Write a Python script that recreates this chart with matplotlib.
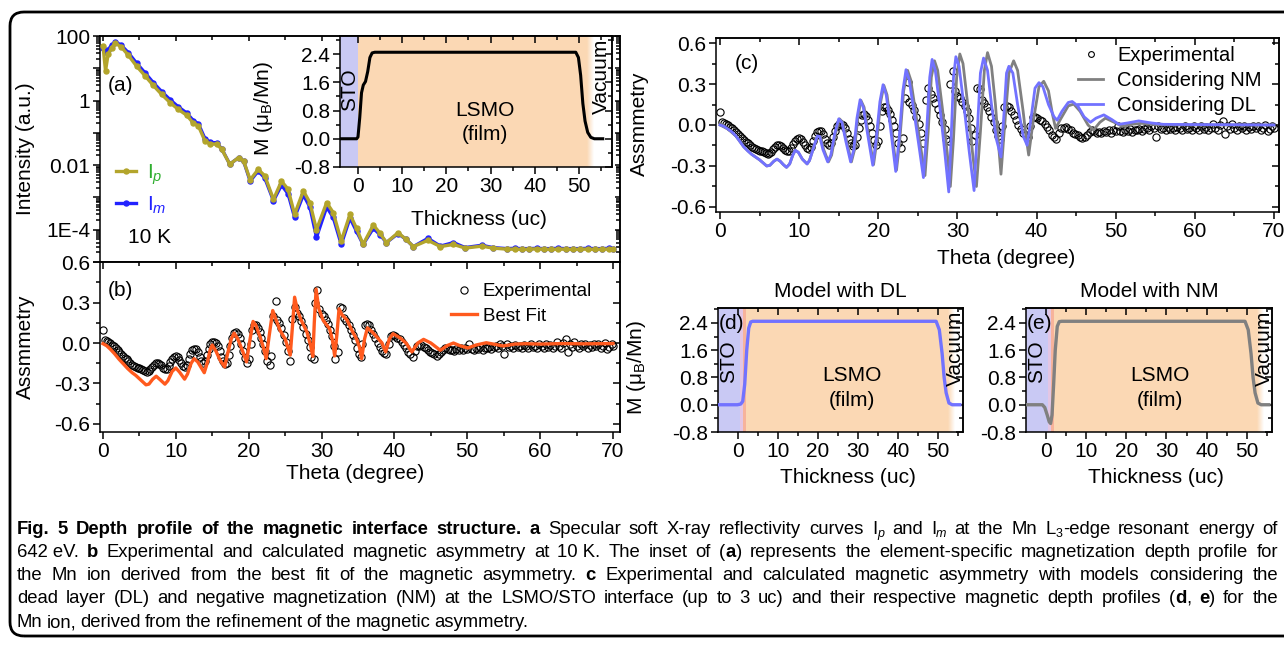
import re
import numpy as np
import matplotlib
matplotlib.use('Agg')
import matplotlib.pyplot as plt
import matplotlib.patches as mpatches
import matplotlib.transforms as mtransforms
from matplotlib.colors import to_rgb
from matplotlib.ticker import (MultipleLocator, FixedLocator, FuncFormatter,
                               LogLocator, FormatStrFormatter, NullFormatter)

# ---------------- data ----------------
# (a) reflectivity, Ip and Im (a.u.)
refl_theta = [0.0, 0.35, 0.7, 1.2, 1.7, 2.5, 3.5, 4.6, 5.8, 6.9, 8.05, 9.2, 10.3, 11.5,
              12.4, 13.1, 14.0, 14.7, 15.6, 16.3, 17.4, 18.6, 19.3, 20.2, 21.3, 22.2,
              23.4, 24.5, 25.4, 26.3, 27.5, 28.4, 29.3, 30.7, 31.6, 32.7, 33.9, 34.8,
              35.7, 37.1, 38.0, 38.9, 40.5, 41.6, 42.6, 44.6, 46.3, 48.1, 49.7, 52.0,
              53.5, 55.4, 56.5, 57.5, 58.5, 59.5, 60.5, 61.5, 62.5, 63.5, 64.5, 65.5,
              66.5, 67.5, 68.5, 69.5, 70.0]
ip = [50, 8.3, 27, 44, 60, 46, 25, 11.7, 5.75, 2.95, 1.55, 0.87, 0.54, 0.35,
      0.20, 0.162, 0.056, 0.045, 0.045, 0.031, 0.0107, 0.017, 0.0135, 0.0035, 0.0074, 0.0047,
      8.7e-4, 3.2e-3, 1.8e-3, 3.0e-4, 1.6e-3, 6.9e-4, 1.0e-4, 6.9e-4, 3.4e-4, 4.5e-5, 3.0e-4, 1.1e-4,
      3.5e-5, 1.4e-4, 7.9e-5, 4.0e-5, 8.1e-5, 5.0e-5, 3.0e-5, 4.7e-5, 3.0e-5, 3.5e-5, 2.7e-5, 3.1e-5,
      2.7e-5, 2.5e-5, 2.5e-5, 2.45e-5, 2.5e-5, 2.55e-5, 2.5e-5, 2.45e-5, 2.5e-5, 2.5e-5, 2.45e-5, 2.5e-5,
      2.5e-5, 2.45e-5, 2.5e-5, 2.5e-5, 2.5e-5]
im = [42, 32, 38, 52, 66, 52, 30, 14.5, 7.1, 3.6, 1.9, 1.07, 0.65, 0.41,
      0.24, 0.19, 0.066, 0.051, 0.049, 0.032, 0.0107, 0.017, 0.0132, 0.0032, 0.0066, 0.0040,
      7.9e-4, 2.4e-3, 1.3e-3, 2.4e-4, 1.2e-3, 5.0e-4, 5.8e-5, 5.0e-4, 2.4e-4, 3.5e-5, 2.3e-4, 8.9e-5,
      3.5e-5, 1.1e-4, 7.1e-5, 4.0e-5, 7.6e-5, 5.0e-5, 3.0e-5, 5.4e-5, 3.1e-5, 4.0e-5, 2.8e-5, 3.3e-5,
      2.8e-5, 2.6e-5, 2.65e-5, 2.6e-5, 2.6e-5, 2.65e-5, 2.6e-5, 2.6e-5, 2.65e-5, 2.6e-5, 2.6e-5, 2.6e-5,
      2.65e-5, 2.6e-5, 2.6e-5, 2.65e-5, 2.6e-5]

# (b), (c) experimental asymmetry
exp_theta = [0.0, 0.25, 0.5, 0.75, 1.0, 1.25, 1.5, 1.75, 2.0, 2.25, 2.5, 2.75, 3.0, 3.25, 3.5,
             3.75, 4.0, 4.25, 4.5, 4.75, 5.0, 5.25, 5.5, 5.75, 6.0, 6.25, 6.5, 6.75, 7.0, 7.25,
             7.5, 7.75, 8.0, 8.25, 8.5, 8.75, 9.0, 9.25, 9.5, 9.75, 10.0, 10.25, 10.5, 10.75,
             11.0, 11.25, 11.5, 11.75, 12.0, 12.25, 12.5, 12.75, 13.0, 13.25, 13.5, 13.75, 14.0,
             14.25, 14.5, 14.75, 15.0, 15.25, 15.5, 15.75, 16.0, 16.25, 16.5, 16.75, 17.0, 17.25,
             17.5, 17.75, 18.0, 18.25, 18.5, 18.75, 19.0, 19.25, 19.5, 19.75, 20.0, 20.25, 20.5,
             20.75, 21.0, 21.25, 21.5, 21.75, 22.0, 22.25, 22.5, 22.9, 23.1, 23.4, 23.7, 23.9,
             24.2, 24.5, 24.8, 25.1, 25.4, 25.7, 26.0, 26.3, 26.6, 26.9, 27.2, 27.5, 27.8, 28.1,
             28.4, 28.6, 28.9, 29.1, 29.4, 29.7, 30.0, 30.3, 30.6, 30.9, 31.2, 31.5, 31.7, 31.9,
             32.2, 32.5, 32.8, 33.1, 33.4, 33.7, 34.0, 34.3, 34.6, 34.9, 35.1, 35.4, 35.6, 35.9,
             36.2, 36.5, 36.8, 37.1, 37.4, 37.7, 38.0, 38.3, 38.6, 38.9, 39.2, 39.5, 39.8, 40.1,
             40.4, 40.7, 41.0, 41.3, 41.6, 41.9, 42.2, 42.5, 42.8, 43.1, 43.4, 43.7, 44.0, 44.3,
             44.6, 44.9, 45.2, 45.5, 45.8, 46.1, 46.4, 46.7, 47.0, 47.3, 47.6, 47.9, 48.2, 48.5,
             48.8, 49.1, 49.4, 49.7, 50.0, 50.3, 50.6, 50.9, 51.2, 51.5, 51.8, 52.1, 52.4, 52.7,
             53.0, 53.3, 53.6, 53.9, 54.2, 54.5, 54.8, 55.1, 55.4, 55.7, 56.0, 56.3, 56.6, 56.9,
             57.2, 57.5, 57.8, 58.1, 58.4, 58.7, 59.0, 59.3, 59.6, 59.9, 60.2, 60.5, 60.8, 61.1,
             61.4, 61.7, 62.0, 62.3, 62.6, 62.9, 63.2, 63.5, 63.8, 64.1, 64.4, 64.7, 65.0, 65.3,
             65.6, 65.9, 66.2, 66.5, 66.8, 67.1, 67.4, 67.7, 68.0, 68.3, 68.6, 68.9, 69.2, 69.5,
             69.8, 70.0]
exp_asym = [0.098, 0.022, 0.015, 0.008, -0.002, -0.012, -0.025, -0.038, -0.052, -0.066, -0.080,
            -0.094, -0.108, -0.122, -0.135, -0.148, -0.160, -0.170, -0.178, -0.184, -0.188,
            -0.192, -0.197, -0.205, -0.212, -0.208, -0.195, -0.175, -0.160, -0.150, -0.148,
            -0.152, -0.165, -0.182, -0.193, -0.190, -0.170, -0.140, -0.115, -0.102, -0.098,
            -0.105, -0.125, -0.150, -0.170, -0.175, -0.160, -0.120, -0.080, -0.052, -0.042,
            -0.045, -0.065, -0.100, -0.130, -0.145, -0.130, -0.090, -0.045, -0.010, 0.005,
            0.008, 0.000, -0.025, -0.060, -0.100, -0.135, -0.155, -0.150, -0.090, -0.020,
            0.040, 0.075, 0.080, 0.065, 0.035, -0.010, -0.060, -0.110, -0.145, -0.120, -0.010,
            0.100, 0.135, 0.130, 0.110, 0.080, 0.040, -0.010, -0.060, -0.130, -0.165, -0.095,
            0.200, 0.315, 0.170, 0.150, 0.110, 0.060, 0.010, -0.060, -0.130, 0.180, 0.270,
            0.225, 0.200, 0.160, 0.120, 0.070, 0.020, -0.030, -0.100, -0.120, 0.300, 0.395,
            0.250, 0.215, 0.200, 0.170, 0.140, 0.100, 0.050, -0.020, -0.120, -0.070, 0.270,
            0.260, 0.185, 0.160, 0.130, 0.100, 0.060, 0.020, -0.040, -0.080, -0.100, -0.010,
            0.135, 0.140, 0.130, 0.100, 0.070, 0.035, 0.000, -0.030, -0.060, -0.075, -0.085,
            -0.010, 0.055, 0.060, 0.050, 0.040, 0.030, 0.010, -0.015, -0.040, -0.070, -0.085,
            -0.100, -0.060, -0.025, -0.020, -0.015, -0.030, -0.040, -0.055, -0.065, -0.075,
            -0.085, -0.095, -0.085, -0.070, -0.050, -0.040, -0.045, -0.055, -0.050, -0.060,
            -0.045, -0.050, -0.035, -0.055, -0.040, -0.045, -0.005, -0.045, -0.050, -0.035,
            -0.045, -0.030, -0.050, -0.035, -0.040, -0.030, -0.045, -0.030, -0.020, -0.040,
            -0.010, -0.025, -0.085, -0.010, -0.030, -0.020, -0.035, -0.015, -0.030, -0.020,
            -0.040, -0.015, -0.025, -0.035, -0.010, -0.030, -0.020, -0.040, -0.005, -0.025,
            -0.035, -0.010, -0.030, -0.015, -0.040, -0.020, 0.005, -0.025, -0.035, 0.000,
            0.030, -0.065, -0.010, -0.030, 0.005, -0.020, -0.035, -0.005, -0.025, -0.010,
            -0.040, -0.015, -0.030, -0.005, -0.025, -0.010, -0.035, -0.020, 0.000, -0.045,
            -0.030, -0.010, -0.025]

# (b) best fit
fit_theta = [0.0, 0.5, 1.0, 1.6, 2.2, 2.8, 3.4, 4.0, 4.5, 5.0, 5.5, 5.9, 6.3, 6.8, 7.3, 7.8, 8.5,
             8.9, 9.5, 10.0, 10.5, 11.2, 11.6, 12.1, 12.5, 13.0, 13.9, 14.3, 14.7, 15.0, 15.5,
             16.1, 16.7, 17.1, 17.6, 18.0, 18.5, 19.1, 19.7, 20.1, 20.6, 21.0, 21.6, 22.0, 22.4,
             22.8, 23.3, 23.7, 24.3, 25.0, 25.7, 26.0, 26.3, 26.7, 27.2, 28.0, 28.5, 28.8, 29.0,
             29.25, 29.6, 30.2, 31.1, 31.5, 31.8, 32.1, 32.4, 32.8, 33.5, 34.2, 34.8, 35.2, 35.5,
             35.9, 36.3, 37.0, 37.6, 38.3, 38.8, 39.3, 39.8, 40.8, 41.6, 42.4, 43.2, 44.0, 45.0,
             46.3, 47.2, 48.1, 49.0, 50.1, 51.2, 52.6, 54.0, 54.9, 56.5, 58.0, 60.0, 63.0, 66.0,
             70.0]
fit_asym = [-0.005, -0.02, -0.045, -0.08, -0.12, -0.155, -0.19, -0.22, -0.24, -0.265, -0.29,
            -0.31, -0.305, -0.27, -0.246, -0.27, -0.305, -0.28, -0.21, -0.185, -0.215, -0.268,
            -0.23, -0.15, -0.116, -0.14, -0.22, -0.15, -0.05, -0.015, -0.06, -0.13, -0.177,
            -0.08, 0.03, 0.074, 0.03, -0.05, -0.14, 0.0, 0.16, 0.13, 0.04, -0.03, -0.116, 0.05,
            0.241, 0.18, 0.094, 0.03, -0.09, 0.12, 0.34, 0.24, 0.17, 0.08, -0.02, -0.10, 0.15,
            0.40, 0.26, 0.17, 0.106, 0.02, -0.096, 0.06, 0.254, 0.21, 0.17, 0.09, 0.03, -0.03,
            -0.116, 0.03, 0.113, 0.08, 0.044, 0.0, -0.066, 0.03, 0.069, 0.037, 0.0, -0.066, 0.0,
            0.027, 0.0, -0.054, -0.02, 0.0, -0.02, -0.037, -0.015, 0.002, -0.012, -0.022,
            -0.008, -0.005, -0.008, -0.004, -0.006, -0.004]

# (c) model curves
dl_theta = [0.0, 0.5, 1.0, 1.5, 2.0, 2.5, 3.0, 3.5, 4.0, 4.5, 5.0, 5.5, 5.9, 6.3, 6.8, 7.2, 7.6,
            8.0, 8.4, 8.8, 9.2, 9.5, 9.9, 10.4, 11.0, 11.3, 11.8, 12.3, 12.6, 13.0, 13.6, 14.0,
            14.5, 15.0, 15.4, 15.9, 16.5, 16.9, 17.3, 17.7, 18.1, 18.6, 19.3, 19.7, 20.2, 20.6,
            21.0, 21.5, 22.2, 22.6, 23.1, 23.5, 23.9, 24.5, 25.2, 25.7, 26.1, 26.5, 26.8, 27.2,
            27.8, 28.4, 28.9, 29.2, 29.5, 29.8, 30.2, 30.8, 31.5, 32.1, 32.5, 32.9, 33.3, 33.8,
            34.3, 34.9, 35.5, 35.9, 36.2, 36.5, 37.0, 37.6, 38.3, 38.8, 39.3, 39.8, 40.3, 40.8,
            41.5, 42.2, 42.6, 43.2, 44.0, 44.5, 45.2, 46.0, 46.8, 47.5, 48.5, 49.5, 50.4, 51.5,
            52.9, 54.5, 56.0, 60.0, 65.0, 70.0]
dl_asym = [0.0, -0.01, -0.03, -0.05, -0.08, -0.12, -0.16, -0.19, -0.215, -0.235, -0.255, -0.28,
           -0.30, -0.295, -0.265, -0.25, -0.265, -0.29, -0.31, -0.285, -0.22, -0.185, -0.2,
           -0.25, -0.285, -0.26, -0.17, -0.08, -0.085, -0.18, -0.27, -0.22, -0.06, 0.045, 0.02,
           -0.12, -0.27, -0.18, 0.05, 0.185, 0.13, -0.05, -0.295, -0.12, 0.17, 0.295, 0.22, 0.0,
           -0.34, -0.12, 0.25, 0.405, 0.33, 0.1, -0.18, -0.385, -0.05, 0.35, 0.48, 0.40, 0.12,
           -0.2, -0.49, -0.1, 0.35, 0.50, 0.43, 0.15, -0.2, -0.48, -0.05, 0.38, 0.49, 0.40, 0.15,
           -0.1, -0.234, 0.1, 0.38, 0.43, 0.38, 0.15, -0.08, -0.148, 0.05, 0.27, 0.31, 0.28,
           0.15, 0.06, 0.035, 0.10, 0.165, 0.172, 0.14, 0.06, 0.02, 0.05, 0.074, 0.04, 0.005,
           0.015, 0.03, 0.015, 0.005, 0.003, 0.002, 0.0]
nm_theta = [0.0, 1.0, 2.0, 3.0, 4.0, 5.0, 5.9, 6.3, 6.8, 7.2, 7.6, 8.0, 8.4, 8.8, 9.2, 9.5, 9.9,
            10.4, 11.0, 11.3, 11.8, 12.3, 12.7, 13.1, 13.7, 14.1, 14.6, 15.1, 15.5, 16.0, 16.6,
            17.0, 17.4, 17.8, 18.2, 18.7, 19.4, 19.8, 20.3, 20.7, 21.1, 21.6, 22.3, 22.7, 23.2,
            23.7, 24.1, 24.7, 25.4, 25.9, 26.3, 26.7, 27.1, 27.5, 28.1, 28.7, 29.1, 29.5, 29.9,
            30.3, 30.7, 31.3, 31.9, 32.4, 32.9, 33.4, 33.8, 34.3, 34.8, 35.2, 35.5, 35.9, 36.5,
            37.1, 37.6, 38.3, 38.7, 39.0, 39.5, 40.3, 40.9, 41.5, 42.0, 42.4, 43.0, 44.0, 44.7,
            45.5, 46.5, 47.2, 48.0, 48.7, 49.8, 50.8, 52.0, 53.3, 55.0, 60.0, 70.0]
nm_asym = [0.0, -0.03, -0.08, -0.16, -0.215, -0.255, -0.30, -0.295, -0.265, -0.25, -0.265, -0.29,
           -0.31, -0.285, -0.22, -0.185, -0.2, -0.25, -0.285, -0.26, -0.17, -0.08, -0.085, -0.18,
           -0.27, -0.22, -0.06, 0.045, 0.02, -0.12, -0.27, -0.18, 0.05, 0.18, 0.13, -0.05, -0.29,
           -0.12, 0.17, 0.29, 0.22, 0.0, -0.33, -0.12, 0.25, 0.40, 0.33, 0.1, -0.18, -0.37, -0.05,
           0.35, 0.47, 0.40, 0.12, -0.2, -0.45, -0.1, 0.35, 0.52, 0.45, 0.15, -0.2, -0.45, -0.05,
           0.40, 0.53, 0.43, 0.15, -0.15, -0.36, -0.05, 0.38, 0.47, 0.40, 0.10, -0.10, -0.22, 0.0,
           0.28, 0.32, 0.25, 0.08, -0.025, 0.04, 0.14, 0.153, 0.10, 0.0, -0.037, 0.02, 0.05, 0.02,
           -0.01, 0.005, 0.012, 0.002, 0.0, 0.0]

# depth profiles (uc, muB/Mn)
fit_z = [-4.5, -0.3, 0.0, 0.4, 0.8, 1.2, 1.7, 2.2, 2.7, 3.2, 3.8, 49.3, 49.9, 50.4, 50.9, 51.4,
         52.0, 52.7, 53.5, 55.4]
fit_m = [0.0, 0.0, 0.05, 0.6, 1.3, 1.52, 1.62, 1.9, 2.3, 2.43, 2.45, 2.45, 2.3, 1.8, 1.0, 0.5,
         0.18, 0.04, 0.0, 0.0]
dl_z = [-5.0, 0.0, 0.8, 1.3, 1.8, 2.3, 2.8, 3.3, 3.8, 49.5, 50.3, 51.0, 51.5, 52.0, 52.7, 53.5,
        55.4]
dl_m = [0.0, 0.0, 0.02, 0.1, 0.6, 1.6, 2.25, 2.43, 2.45, 2.45, 2.2, 1.5, 0.8, 0.35, 0.05, 0.0,
        0.0]
nm_z = [-5.0, -0.8, -0.2, 0.4, 0.9, 1.25, 1.6, 2.0, 2.4, 2.9, 3.4, 4.0, 49.5, 50.3, 51.0, 51.5,
        52.0, 52.7, 53.5, 55.4]
nm_m = [0.0, 0.0, -0.08, -0.3, -0.5, -0.55, -0.3, 0.6, 1.6, 2.3, 2.44, 2.45, 2.45, 2.2, 1.5,
        0.8, 0.35, 0.05, 0.0, 0.0]

caption = [
    "**Fig. 5 Depth profile of the magnetic interface structure.** **a** Specular soft X-ray "
    "reflectivity curves I_{p} and I_{m} at the Mn L_[3]-edge resonant energy of",
    "642~eV. **b** Experimental and calculated magnetic asymmetry at 10~K. The inset of (**a**) "
    "represents the element-specific magnetization depth profile for",
    "the Mn ion derived from the best fit of the magnetic asymmetry. **c** Experimental and "
    "calculated magnetic asymmetry with models considering the",
    "dead layer (DL) and negative magnetization (NM) at the LSMO/STO interface (up to 3 uc) and "
    "their respective magnetic depth profiles (**d**, **e**) for the",
    "Mn ion, derived from the refinement of the magnetic asymmetry.",
]

# ---------------- style ----------------
plt.rcParams['font.family'] = ['Liberation Sans', 'DejaVu Sans']
plt.rcParams['mathtext.fontset'] = 'custom'
plt.rcParams['mathtext.rm'] = 'Liberation Sans'
plt.rcParams['mathtext.it'] = 'Liberation Sans:italic'
plt.rcParams['mathtext.bf'] = 'Liberation Sans:bold'
plt.rcParams['axes.unicode_minus'] = False
plt.rcParams['axes.linewidth'] = 1.1

BLUE_BG = '#c9c9f4'
PEACH = '#fbd8b4'
ORANGE = '#ff5a1e'
DLBLUE = '#7272ff'
GREY = '#808080'
OLIVE = '#b3a52c'
IMBLUE = '#2222ff'
FS = 15
CAP_FONT = 'Liberation Sans'
CAP_FS = 13.3

W, H = 1284, 645
fig = plt.figure(figsize=(W / 100, H / 100), dpi=100)


def box(l, t, r, b):
    return [l / W, 1 - b / H, (r - l) / W, (b - t) / H]


def ticks(ax, xmaj, xmin, ymaj, ymin, fmt='%.1f'):
    ax.xaxis.set_major_locator(MultipleLocator(xmaj))
    ax.xaxis.set_minor_locator(MultipleLocator(xmin))
    ax.yaxis.set_major_locator(FixedLocator(ymaj))
    ax.yaxis.set_minor_locator(FixedLocator(ymin))
    ax.yaxis.set_major_formatter(FormatStrFormatter(fmt))
    ax.tick_params(which='both', direction='out', labelsize=FS, width=1.1, pad=2)
    ax.tick_params(which='major', length=5)
    ax.tick_params(which='minor', length=3)
    top = ax.secondary_xaxis('top')
    top.xaxis.set_major_locator(MultipleLocator(xmaj))
    top.xaxis.set_minor_locator(MultipleLocator(xmin))
    right = ax.secondary_yaxis('right')
    right.yaxis.set_major_locator(FixedLocator(ymaj))
    right.yaxis.set_minor_locator(FixedLocator(ymin))
    for sec in (top, right):
        sec.tick_params(which='both', direction='in', width=1.1, labeltop=False,
                        labelright=False)
        sec.tick_params(which='major', length=5)
        sec.tick_params(which='minor', length=3)


def layers(ax, x0, fade0, fade1, y0, y1, dead=False):
    ax.axvspan(x0, 0.6 if dead else 0, color=BLUE_BG, lw=0, zorder=0)
    start = 0
    if dead:
        ax.axvspan(0.6, 1.3, color='#e3c6e4', lw=0, zorder=0)
        ax.axvspan(1.3, 2.0, color='#f7b39b', lw=0, zorder=0)
        start = 2.0
    ax.axvspan(start, fade0, color=PEACH, lw=0, zorder=0)
    grad = np.ones((1, 64, 4))
    grad[..., :3] = to_rgb(PEACH)
    grad[..., 3] = np.linspace(1, 0, 64)
    ax.imshow(grad, extent=(fade0, fade1, y0, y1), aspect='auto', zorder=0,
              interpolation='bilinear')


def profile_texts(ax, sto_x, sto_y, lsmo_x, lsmo_y, film_y, vac_x, vac_y):
    ax.text(sto_x, sto_y, 'STO', rotation=90, ha='center', va='center', fontsize=FS)
    ax.text(lsmo_x, lsmo_y, 'LSMO', ha='center', va='center', fontsize=FS)
    ax.text(lsmo_x, film_y, '(film)', ha='center', va='center', fontsize=FS)
    ax.text(vac_x, vac_y, 'Vacuum', rotation=90, ha='center', va='center', fontsize=FS)


M_LABEL = 'M (μ$_\\mathrm{B}$/Mn)'
PROF_Y = [-0.8, 0.0, 0.8, 1.6, 2.4]
PROF_YMIN = [-0.4, 0.4, 1.2, 2.0, 2.8]
ASYM_Y = [-0.6, -0.3, 0.0, 0.3, 0.6]
ASYM_YMIN = [-0.45, -0.15, 0.15, 0.45]

# ---------------- (a) reflectivity ----------------
ax_a = fig.add_axes(box(100, 36, 620, 262))
ax_a.plot(refl_theta, im, '-o', color=IMBLUE, lw=2.4, ms=3.6, label='I$_m$', zorder=3)
ax_a.plot(refl_theta, ip, '-o', color=OLIVE, lw=2.4, ms=3.6, label='I$_p$', zorder=4)
ax_a.set_yscale('log')
ax_a.set_xlim(-0.41, 70.96)
ax_a.set_ylim(1e-5, 100)
ax_a.xaxis.set_major_locator(MultipleLocator(10))
ax_a.xaxis.set_minor_locator(MultipleLocator(5))
ax_a.yaxis.set_major_locator(FixedLocator([1e-5, 1e-4, 1e-3, 1e-2, 1e-1, 1, 10, 100]))
ax_a.yaxis.set_minor_locator(LogLocator(base=10, subs=np.arange(2, 10) * 1.0, numticks=20))
labels_a = {2: '100', 0: '1', -2: '0.01', -4: '1E-4'}
ax_a.yaxis.set_major_formatter(FuncFormatter(lambda v, p: labels_a.get(int(round(np.log10(v))), '')))
ax_a.yaxis.set_minor_formatter(NullFormatter())
ax_a.tick_params(which='both', direction='out', labelsize=FS, width=1.1, pad=2, labelbottom=False)
ax_a.tick_params(which='major', length=5)
ax_a.tick_params(which='minor', length=3)
sec = ax_a.secondary_yaxis('right')
sec.yaxis.set_major_locator(FixedLocator([1e-5, 1e-4, 1e-3, 1e-2, 1e-1, 1, 10, 100]))
sec.yaxis.set_minor_locator(LogLocator(base=10, subs=np.arange(2, 10) * 1.0, numticks=20))
sec.tick_params(which='both', direction='in', labelright=False, width=1.1)
sec.tick_params(which='minor', length=3)
sec = ax_a.secondary_xaxis('top')
sec.xaxis.set_major_locator(MultipleLocator(10))
sec.xaxis.set_minor_locator(MultipleLocator(5))
sec.tick_params(which='both', direction='in', labeltop=False, width=1.1)
sec.tick_params(which='minor', length=3)
ax_a.set_ylabel('Intensity (a.u.)', fontsize=FS)
ax_a.yaxis.set_label_coords(-0.125, 0.5)
ax_a.text(0.7, 3.0, '(a)', fontsize=FS, va='center', ha='left')
ax_a.text(3.4, 5.6e-5, '10 K', fontsize=FS, va='center', ha='left')
hs, ls = ax_a.get_legend_handles_labels()
leg = ax_a.legend(hs[::-1], ls[::-1], loc='upper left', bbox_to_anchor=(0.03, 0.44),
                  frameon=False, fontsize=FS, handlelength=1.0, handletextpad=0.5,
                  labelspacing=0.35, borderpad=0, borderaxespad=0)
leg.get_texts()[0].set_color('#2fae2f')
leg.get_texts()[1].set_color(IMBLUE)

# inset of (a)
ax_in = fig.add_axes(box(340, 36, 612, 167))
layers(ax_in, -4.07, 51.8, 53.2, -0.8, 2.91)
ax_in.plot(fit_z, fit_m, color='black', lw=2.2, zorder=3)
ax_in.set_xlim(-4.07, 57.5)
ax_in.set_ylim(-0.8, 2.91)
ticks(ax_in, 10, 5, PROF_Y, PROF_YMIN)
ax_in.set_xlabel('Thickness (uc)', fontsize=FS)
ax_in.xaxis.set_label_coords(0.51, -0.33)
ax_in.set_ylabel(M_LABEL, fontsize=FS)
ax_in.yaxis.set_label_coords(-0.24, 0.45)
profile_texts(ax_in, -2.0, 1.38, 28.8, 0.81, 0.13, 55.2, 1.78)

# ---------------- (b) asymmetry + best fit ----------------
ax_b = fig.add_axes(box(100, 262, 620, 432))
ax_b.plot(exp_theta, exp_asym, 'o', mfc='none', mec='black', ms=5.2, mew=0.8,
          label='Experimental', zorder=2)
ax_b.plot(fit_theta, fit_asym, color=ORANGE, lw=2.4, label='Best Fit', zorder=3)
ax_b.set_xlim(-0.41, 70.96)
ax_b.set_ylim(-0.66, 0.601)
ticks(ax_b, 10, 5, ASYM_Y, ASYM_YMIN)
ax_b.set_xlabel('Theta (degree)', fontsize=FS)
ax_b.xaxis.set_label_coords(0.49, -0.19)
ax_b.set_ylabel('Assmmetry', fontsize=FS)
ax_b.yaxis.set_label_coords(-0.125, 0.5)
ax_b.text(0.7, 0.39, '(b)', fontsize=FS, va='center', ha='left')
ax_b.legend(loc='upper left', bbox_to_anchor=(0.675, 0.875), frameon=False, fontsize=13.5,
            handlelength=1.4, handletextpad=0.3, labelspacing=0.4, borderpad=0,
            borderaxespad=0)

# ---------------- (c) model comparison ----------------
ax_c = fig.add_axes(box(716, 38, 1279, 212))
ax_c.plot(exp_theta, exp_asym, 'o', mfc='none', mec='black', ms=5.2, mew=0.8,
          label='Experimental', zorder=2)
ax_c.plot(nm_theta, nm_asym, color=GREY, lw=2.0, label='Considering NM', zorder=3)
ax_c.plot(dl_theta, dl_asym, color=DLBLUE, lw=2.0, label='Considering DL', zorder=4)
ax_c.set_xlim(-0.51, 70.63)
ax_c.set_ylim(-0.637, 0.637)
ticks(ax_c, 10, 5, ASYM_Y, ASYM_YMIN)
ax_c.set_xlabel('Theta (degree)', fontsize=FS)
ax_c.xaxis.set_label_coords(0.515, -0.215)
ax_c.set_ylabel('Assmmetry', fontsize=FS)
ax_c.yaxis.set_label_coords(-0.119, 0.51)
ax_c.text(1.8, 0.45, '(c)', fontsize=FS, va='center', ha='left')
ax_c.legend(loc='upper left', bbox_to_anchor=(0.643, 0.955), frameon=False, fontsize=14.5,
            handlelength=1.25, handletextpad=0.7, labelspacing=0.3, borderpad=0,
            borderaxespad=0, markerscale=0.8)

# ---------------- (d), (e) profiles ----------------
for pos, z, m, col, title, tag in ((box(718, 308, 963, 432), dl_z, dl_m, DLBLUE,
                                    'Model with DL', '(d)'),
                                   (box(1026, 308, 1272, 432), nm_z, nm_m, GREY,
                                    'Model with NM', '(e)')):
    ax = fig.add_axes(pos)
    layers(ax, -5, 52.5, 54.0, -0.8, 2.84, dead=True)
    ax.plot(z, m, color=col, lw=2.4, zorder=3)
    ax.set_xlim(-4.86, 56.2)
    ax.set_ylim(-0.8, 2.84)
    ticks(ax, 10, 5, PROF_Y, PROF_YMIN)
    ax.set_title(title, fontsize=FS, pad=8)
    ax.set_xlabel('Thickness (uc)', fontsize=FS)
    ax.xaxis.set_label_coords(0.53, -0.29)
    ax.text(-4.6, 2.38, tag, fontsize=FS, va='center', ha='left')
    profile_texts(ax, -2.3, 1.25, 28.5, 0.86, 0.13, 54.2, 1.66)
    if tag == '(d)':
        ax.set_ylabel(M_LABEL, fontsize=FS)
        ax.yaxis.set_label_coords(-0.286, 0.52)

# ---------------- frame and caption ----------------
frame = mpatches.FancyBboxPatch((10, 9), 1300, 624, boxstyle='round,pad=0,rounding_size=14',
                                fill=False, lw=2.0, ec='black',
                                transform=mtransforms.IdentityTransform())
fig.add_artist(frame)


def parse(line):
    words = [[]]
    for mt in re.finditer(r'\*\*(.+?)\*\*|_\{(.+?)\}|_\[(.+?)\]|([^*_]+)', line):
        if mt.group(1):
            text, kind = mt.group(1), 'b'
        elif mt.group(2):
            text, kind = mt.group(2), 'subi'
        elif mt.group(3):
            text, kind = mt.group(3), 'sub'
        else:
            text, kind = mt.group(4), 'r'
        for i, part in enumerate(text.split(' ')):
            if i > 0:
                words.append([])
            if part:
                words[-1].append((part.replace('~', ' '), kind))
    return [w for w in words if w]


renderer = fig.canvas.get_renderer()
x0, x1 = 17, 1278
baselines = [111, 88, 65, 42, 18]
for n, (line, yb) in enumerate(zip(caption, baselines)):
    placed = []
    for word in parse(line):
        pieces, cx = [], 0.0
        for text, kind in word:
            kw = dict(fontsize=CAP_FS, family=CAP_FONT, ha='left', va='baseline',
                      transform=mtransforms.IdentityTransform())
            dy = 0.0
            if kind == 'b':
                kw['fontweight'] = 'bold'
            if kind in ('sub', 'subi'):
                kw['fontsize'] = CAP_FS * 0.68
                dy = -CAP_FS * 0.2
                if kind == 'subi':
                    kw['style'] = 'italic'
            t = fig.text(0, yb + dy, text, **kw)
            pieces.append((t, cx, dy))
            cx += t.get_window_extent(renderer).width
        placed.append((pieces, cx))
    total = sum(wd for _, wd in placed)
    if n < len(caption) - 1:
        gap = (x1 - x0 - total) / (len(placed) - 1)
    else:
        gap = CAP_FS * 0.3
    x = x0
    for pieces, wd in placed:
        for t, off, dy in pieces:
            t.set_position((x + off, yb + dy))
        x += wd + gap

fig.savefig('out.png', dpi=100)
